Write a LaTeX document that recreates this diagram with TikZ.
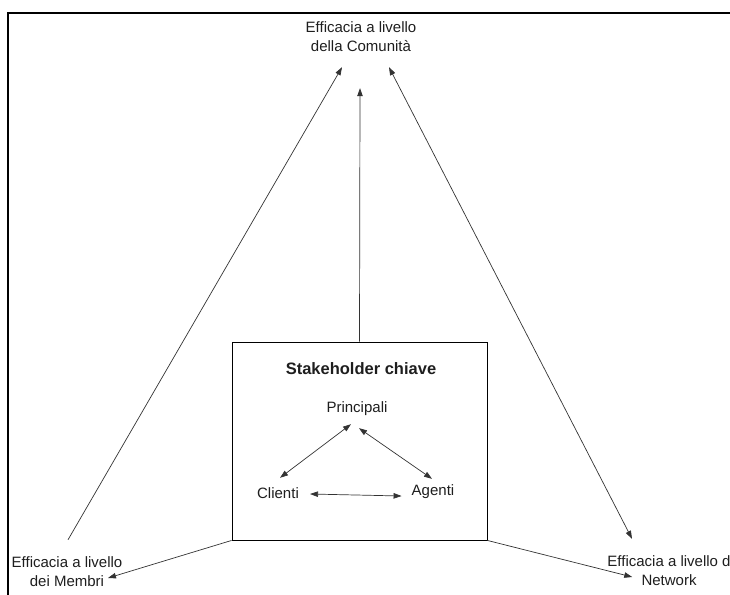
\documentclass[tikz,border=0pt]{standalone}
\usepackage{fontspec}
\setmainfont{Liberation Sans}
\usetikzlibrary{arrows.meta,positioning}
\definecolor{linegray}{HTML}{333333}
\definecolor{textgray}{HTML}{1E1E1E}

\begin{document}
\begin{tikzpicture}[x=1pt,y=-1pt,font=\fontsize{15}{19}\selectfont,
  lbl/.style={inner sep=0pt,align=center,text=textgray},
  link/.style={linegray,line width=.7pt,-{Triangle[length=8pt,width=5.5pt]}},
  bilink/.style={linegray,line width=.7pt,{Triangle[length=8pt,width=5.5pt]}-{Triangle[length=8pt,width=5.5pt]}}]
  \useasboundingbox (0,0) rectangle (730,594);
  \clip (0,0) rectangle (730,594);
  \draw[line width=2pt] (8,600)--(8,13)--(740,13);
  % livelli di efficacia
  \node[lbl] (comm) at (361,37) {Efficacia a livello\\della Comunità};
  \node[lbl] (memb) at (67,572) {Efficacia a livello\\dei Membri};
  \node[lbl] (netw) at (669,571) {Efficacia a livello d\\Network};
  % stakeholder
  \node[draw,line width=.9pt,minimum width=255pt,minimum height=198pt,inner sep=0pt] (stake) at (359.5,441) {};
  \node[lbl,font=\fontsize{16.5}{20}\selectfont\bfseries] (title) at (361,369) {Stakeholder chiave};
  \node[lbl] (princ) at (357,409) {Principali};
  \node[lbl] (clienti) at (278,493) {Clienti};
  \node[lbl] (agenti) at (433,492) {Agenti};
  \draw[bilink] ([shift={(-6,8)}]princ.south)--([shift={(2,-9.5)}]clienti.north);
  \draw[bilink] ([shift={(2,12)}]princ.south)--([shift={(-1,-6)}]agenti.north);
  \draw[bilink] ([shift={(11,1)}]clienti.east)--([shift={(-10,4)}]agenti.west);
  % frecce verso i livelli
  \draw[link] (stake.north)--([shift={(-1,36)}]comm.south);
  \draw[link] ([shift={(1,-17)}]memb.north)--([shift={(-19,15)}]comm.south);
  \draw[bilink] ([shift={(-37,-17)}]netw.north)--([shift={(28,15)}]comm.south);
  \draw[link] (stake.south west)--([shift={(-14.5,6)}]memb.east);
  \draw[link] (stake.south east)--([shift={(25,6)}]netw.west);
\end{tikzpicture}
\end{document}
